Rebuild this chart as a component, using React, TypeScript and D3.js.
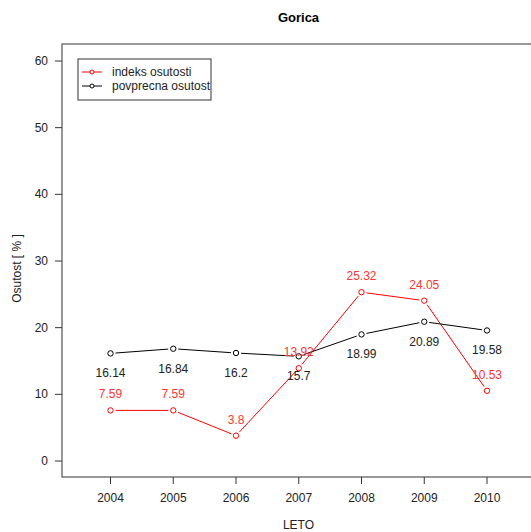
import React from "react";
import * as d3 from "d3";

const years = [2004, 2005, 2006, 2007, 2008, 2009, 2010];
const indeks = [7.59, 7.59, 3.8, 13.92, 25.32, 24.05, 10.53];
const povprecna = [16.14, 16.84, 16.2, 15.7, 18.99, 20.89, 19.58];
const yTicks = [0, 10, 20, 30, 40, 50, 60];
const title = "Gorica";
const xTitle = "LETO";
const yTitle = "Osutost [ % ]";
const legendLabels = ["indeks osutosti", "povprecna osutost"];

const W = 531, H = 532;
const left = 62, top = 44, right = 535, bottom = 477;
const RED = "#ff0000";
const BLK = "#000000";
const FONT = "'Liberation Sans', Arial, sans-serif";
const GAP = 5;

export default function App() {
  const x = d3.scaleLinear().domain([2004, 2010]).range([110.5, 487]);
  const y = d3.scaleLinear().domain([0, 60]).range([461, 61]);

  const series = [
    { data: indeks, color: RED, dy: -16, label: legendLabels[0] },
    { data: povprecna, color: BLK, dy: 20, label: legendLabels[1] },
  ];

  const segments = (data: number[]) => {
    const segs: { x1: number; y1: number; x2: number; y2: number }[] = [];
    for (let i = 0; i < data.length - 1; i++) {
      const ax = x(years[i]), ay = y(data[i]);
      const bx = x(years[i + 1]), by = y(data[i + 1]);
      const len = Math.hypot(bx - ax, by - ay);
      if (len <= 2 * GAP) continue;
      const ux = (bx - ax) / len, uy = (by - ay) / len;
      segs.push({ x1: ax + ux * GAP, y1: ay + uy * GAP, x2: bx - ux * GAP, y2: by - uy * GAP });
    }
    return segs;
  };

  return (
    <svg width={W} height={H} style={{ position: "absolute", left: 0, top: 0, background: "#fff" }} fontFamily={FONT}>
      <rect width={W} height={H} fill="#fff" />
      <text x={(left + right) / 2} y={17} textAnchor="middle" dominantBaseline="central" fontWeight="bold" fontSize={13}>
        {title}
      </text>
      <rect x={left} y={top} width={right - left} height={bottom - top} fill="none" stroke="#333" strokeWidth={1} />
      {yTicks.map((t) => (
        <g key={t}>
          <line x1={left - 7} x2={left} y1={y(t)} y2={y(t)} stroke="#333" />
          <text x={left - 14} y={y(t)} textAnchor="end" dominantBaseline="central" fontSize={12} fill="#222">
            {t}
          </text>
        </g>
      ))}
      {years.map((yr) => (
        <g key={yr}>
          <line x1={x(yr)} x2={x(yr)} y1={bottom} y2={bottom + 7} stroke="#333" />
          <text x={x(yr)} y={498} textAnchor="middle" dominantBaseline="central" fontSize={12} fill="#222">
            {yr}
          </text>
        </g>
      ))}
      <text x={(left + right) / 2} y={525} textAnchor="middle" dominantBaseline="central" fontSize={12} fill="#222">
        {xTitle}
      </text>
      <text
        transform={`translate(17,${(top + bottom) / 2 + 8}) rotate(-90)`}
        textAnchor="middle"
        dominantBaseline="central"
        fontSize={12}
        fill="#222"
      >
        {yTitle}
      </text>
      {series.map((s, si) => (
        <g key={si}>
          {segments(s.data).map((g, i) => (
            <line key={i} x1={g.x1} y1={g.y1} x2={g.x2} y2={g.y2} stroke={s.color} strokeWidth={1} />
          ))}
          {s.data.map((v, i) => (
            <circle key={i} cx={x(years[i])} cy={y(v)} r={2.7} fill="none" stroke={s.color} strokeWidth={1} />
          ))}
        </g>
      ))}
      {series.map((s, si) => (
        <g key={"l" + si}>
          {s.data.map((v, i) => (
            <text
              key={i}
              x={x(years[i])}
              y={y(v) + s.dy}
              textAnchor="middle"
              dominantBaseline="central"
              fontSize={12}
              fill={si === 0 ? "#ff3333" : "#222"}
            >
              {String(v)}
            </text>
          ))}
        </g>
      ))}
      <rect x={78} y={59} width={133} height={41} fill="#fff" stroke="#333" />
      {series.map((s, si) => (
        <g key={"lg" + si}>
          <line x1={82} x2={102} y1={72 + si * 14} y2={72 + si * 14} stroke={s.color} />
          <circle cx={92} cy={72 + si * 14} r={2} fill="#fff" stroke={s.color} />
          <text x={112} y={72 + si * 14} dominantBaseline="central" fontSize={12} fill="#222">
            {s.label}
          </text>
        </g>
      ))}
    </svg>
  );
}
